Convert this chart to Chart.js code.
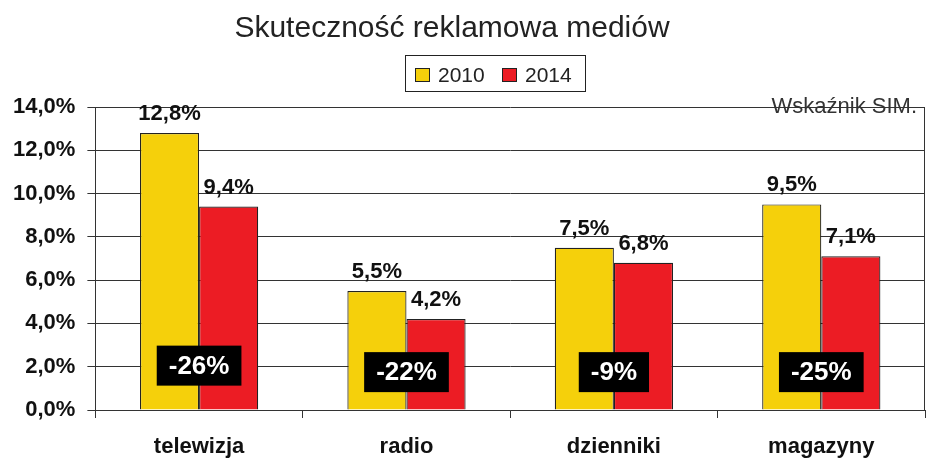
<!DOCTYPE html>
<html>
<head>
<meta charset="utf-8">
<script src="https://cdn.jsdelivr.net/npm/chart.js@4"></script>
<style>
  html, body { margin: 0; padding: 0; background: #fff; }
  #wrap { width: 927px; height: 459px; }
</style>
</head>
<body>
<div id="wrap"><canvas id="mediaChart"></canvas></div>
<script>
const categories = ['telewizja', 'radio', 'dzienniki', 'magazyny'];
const seriesNames = ['2010', '2014'];
const values2010 = [12.8, 5.5, 7.5, 9.5];
const values2014 = [9.4, 4.2, 6.8, 7.1];
const changeLabels = ['-26%', '-22%', '-9%', '-25%'];
const chartTitle = 'Skuteczność reklamowa mediów';
const sourceNote = 'Wskaźnik SIM.';

const FONT = '"Liberation Sans", Arial, sans-serif';
const YELLOW = '#F5D00B';
const RED = '#EC1C24';
const LINE = '#333';

function fmt (v) {
  return v.toFixed(1).replace('.', ',') + '%';
}

// title, legend, labels and boxes drawn on top of the chart
const extras = {
  id: 'extras',
  afterDatasetsDraw (chart) {
    const ctx = chart.ctx;
    const area = chart.chartArea;
    const x = chart.scales.x;
    const y = chart.scales.y;
    ctx.save();

    // right border of plot
    ctx.strokeStyle = LINE;
    ctx.lineWidth = 1;
    ctx.beginPath();
    ctx.moveTo(Math.round(area.right) - 0.5, area.top);
    ctx.lineTo(Math.round(area.right) - 0.5, area.bottom);
    ctx.stroke();

    // values above bars
    ctx.fillStyle = '#111';
    ctx.font = 'bold 22px ' + FONT;
    ctx.textAlign = 'center';
    ctx.textBaseline = 'alphabetic';
    chart.data.datasets.forEach((ds, di) => {
      chart.getDatasetMeta(di).data.forEach((bar, i) => {
        ctx.fillText(fmt(ds.data[i]), bar.x, bar.y - 13);
      });
    });

    // change boxes
    const levels = [2.05, 1.75, 1.75, 1.75];
    ctx.font = 'bold 26px ' + FONT;
    ctx.textBaseline = 'middle';
    changeLabels.forEach((txt, i) => {
      const cx = x.getPixelForValue(i);
      const cy = y.getPixelForValue(levels[i]);
      const w = ctx.measureText(txt).width + 24;
      const h = 40;
      ctx.fillStyle = '#000';
      ctx.fillRect(cx - w / 2, cy - h / 2, w, h);
      ctx.fillStyle = '#fff';
      ctx.fillText(txt, cx, cy + 1);
    });

    // source note
    ctx.fillStyle = '#333';
    ctx.font = '22px ' + FONT;
    ctx.textAlign = 'right';
    ctx.textBaseline = 'alphabetic';
    ctx.fillText(sourceNote, 917, 113);

    // title
    ctx.fillStyle = '#222';
    ctx.font = '30px ' + FONT;
    ctx.textAlign = 'center';
    ctx.fillText(chartTitle, 452, 37);

    // legend
    ctx.strokeStyle = '#222';
    ctx.strokeRect(405.5, 55.5, 180, 36);
    ctx.font = '21px ' + FONT;
    ctx.textAlign = 'left';
    ctx.textBaseline = 'middle';
    const items = [{ x: 415, color: YELLOW }, { x: 502, color: RED }];
    items.forEach((it, i) => {
      ctx.fillStyle = it.color;
      ctx.fillRect(it.x, 68, 15, 14);
      ctx.strokeStyle = '#222';
      ctx.strokeRect(it.x + 0.5, 68.5, 14, 13);
      ctx.fillStyle = '#222';
      ctx.fillText(seriesNames[i], it.x + 23, 76);
    });

    ctx.restore();
  }
};

const data = {
  labels: categories,
  datasets: [{
    label: seriesNames[0],
    data: values2010,
    backgroundColor: YELLOW,
    borderColor: '#222',
    borderWidth: 1.2
  }, {
    label: seriesNames[1],
    data: values2014,
    backgroundColor: RED,
    borderColor: '#222',
    borderWidth: 1.2
  }]
};

const config = {
  type: 'bar',
  data: data,
  options: {
    responsive: true,
    maintainAspectRatio: false,
    animation: false,
    layout: {
      padding: { top: 107, left: 1, right: 2, bottom: -17 }
    },
    datasets: {
      bar: { barPercentage: 1, categoryPercentage: 0.57 }
    },
    plugins: {
      legend: { display: false },
      title: { display: false },
      tooltip: { enabled: false }
    },
    scales: {
      x: {
        grid: {
          drawOnChartArea: false,
          tickLength: 8,
          tickColor: LINE,
          color: LINE
        },
        border: { color: LINE },
        ticks: {
          color: '#111',
          padding: 17,
          font: { family: FONT, size: 22, weight: 'bold', lineHeight: '24px' }
        }
      },
      y: {
        min: 0,
        max: 14,
        grid: {
          color: LINE,
          tickLength: 8,
          tickColor: LINE
        },
        border: { color: LINE },
        ticks: {
          stepSize: 2,
          color: '#111',
          padding: 12,
          font: { family: FONT, size: 22, weight: 'bold' },
          callback: (v) => fmt(v)
        }
      }
    }
  },
  plugins: [extras]
};

var mediaChart = new Chart(
  document.getElementById('mediaChart'),
  config
);
</script>
</body>
</html>
